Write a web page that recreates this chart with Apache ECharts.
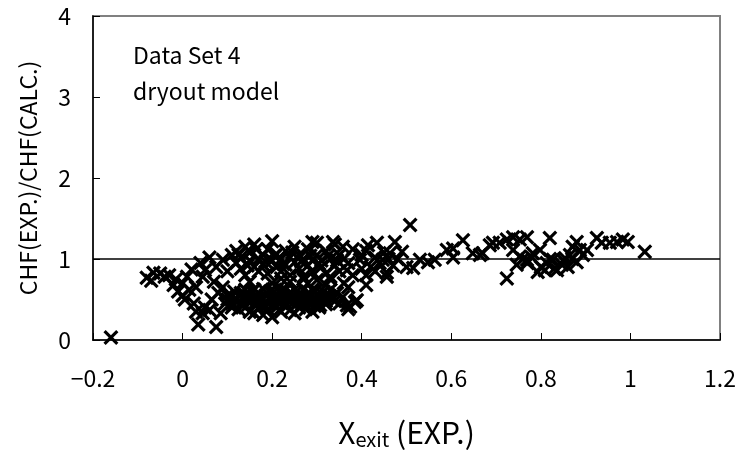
<!DOCTYPE html>
<html>
<head>
<meta charset="utf-8">
<script src="https://cdn.jsdelivr.net/npm/echarts@6/dist/echarts.min.js"></script>
<style>
  html, body { margin: 0; padding: 0; background: #fff; }
  #chart { width: 741px; height: 458px; }
</style>
</head>
<body>
<div id="chart"></div>
<script>
  // ==================== 数据 ====================

  // x 轴刻度 (-0.2 .. 1.2)
  var xTicks = [-0.2, 0, 0.2, 0.4, 0.6, 0.8, 1, 1.2];
  // y 轴刻度
  var yTicks = [0, 1, 2, 3, 4];

  // 左侧低干度区域
  var lowQuality = [
    [-0.16, 0.03],
    [-0.08, 0.77], [-0.07, 0.73], [-0.065, 0.83], [-0.05, 0.82], [-0.04, 0.78],
    [-0.03, 0.80], [-0.02, 0.68], [-0.015, 0.75], [-0.01, 0.60], [0.0, 0.55],
    [0.0, 0.70], [0.005, 0.50], [0.01, 0.78], [0.015, 0.62], [0.02, 0.87],
    [0.025, 0.45], [0.03, 0.65], [0.03, 0.35], [0.035, 0.19], [0.04, 0.95],
    [0.045, 0.78], [0.045, 0.33], [0.05, 0.40], [0.06, 0.37], [0.06, 1.02],
    [0.065, 0.50], [0.075, 0.16], [0.075, 0.90], [0.08, 0.58], [0.085, 0.33],
    [0.09, 0.99], [0.095, 0.45], [0.10, 0.50], [0.10, 0.85], [0.11, 0.53],
    [0.11, 1.05], [0.11, 0.40], [0.05, 0.86], [0.07, 0.72], [0.09, 0.65]
  ];

  // 中部上带 (y ≈ 0.8 - 1.25)
  var upperBand = [
    [0.12, 0.95], [0.12, 1.10], [0.13, 0.88], [0.13, 1.02], [0.14, 1.15],
    [0.14, 0.80], [0.15, 0.98], [0.15, 1.08], [0.16, 0.90], [0.16, 1.18],
    [0.17, 1.00], [0.17, 0.85], [0.18, 1.05], [0.18, 0.93], [0.19, 1.12],
    [0.19, 0.82], [0.20, 0.98], [0.20, 1.22], [0.21, 0.90], [0.21, 1.06],
    [0.22, 1.00], [0.22, 0.85], [0.23, 1.10], [0.23, 0.93], [0.24, 1.02],
    [0.24, 0.80], [0.25, 0.96], [0.25, 1.15], [0.26, 0.88], [0.26, 1.05],
    [0.27, 1.00], [0.27, 0.78], [0.28, 1.12], [0.28, 0.92], [0.29, 0.98],
    [0.29, 0.84], [0.29, 1.21], [0.30, 1.20], [0.30, 1.05], [0.31, 0.90],
    [0.31, 0.98], [0.32, 1.10], [0.32, 0.82], [0.33, 1.00], [0.33, 0.75],
    [0.336, 1.21], [0.34, 1.18], [0.34, 0.92], [0.35, 1.05], [0.35, 0.85],
    [0.358, 1.15], [0.36, 1.00], [0.36, 0.70], [0.367, 0.86], [0.37, 0.95],
    [0.37, 0.65], [0.38, 1.12], [0.38, 0.80], [0.396, 0.99], [0.40, 1.05],
    [0.40, 0.88], [0.125, 1.05], [0.145, 0.92], [0.165, 1.12], [0.185, 0.97],
    [0.205, 1.04], [0.225, 0.94], [0.245, 1.08], [0.265, 0.97], [0.285, 1.04],
    [0.305, 0.94], [0.325, 1.04], [0.345, 0.98]
  ];

  // 中部下带 (y ≈ 0.3 - 0.65)
  var lowerBand = [
    [0.10, 0.55], [0.11, 0.45], [0.115, 0.60], [0.12, 0.50], [0.125, 0.38],
    [0.13, 0.58], [0.13, 0.45], [0.135, 0.52], [0.14, 0.62], [0.14, 0.40],
    [0.145, 0.48], [0.15, 0.55], [0.15, 0.35], [0.155, 0.60], [0.16, 0.44],
    [0.16, 0.33], [0.165, 0.52], [0.17, 0.58], [0.17, 0.40], [0.175, 0.48],
    [0.18, 0.63], [0.18, 0.31], [0.185, 0.55], [0.19, 0.45], [0.19, 0.38],
    [0.195, 0.60], [0.20, 0.50], [0.20, 0.28], [0.205, 0.42], [0.21, 0.57],
    [0.21, 0.40], [0.215, 0.65], [0.22, 0.47], [0.22, 0.35], [0.225, 0.55],
    [0.23, 0.62], [0.23, 0.42], [0.235, 0.50], [0.24, 0.37], [0.24, 0.58],
    [0.245, 0.45], [0.25, 0.53], [0.25, 0.33], [0.255, 0.60], [0.26, 0.48],
    [0.26, 0.40], [0.265, 0.55], [0.27, 0.45], [0.27, 0.62], [0.275, 0.38],
    [0.28, 0.52], [0.28, 0.58], [0.285, 0.44], [0.29, 0.50], [0.29, 0.35],
    [0.295, 0.60], [0.30, 0.46], [0.30, 0.55], [0.305, 0.40], [0.307, 0.43],
    [0.31, 0.52], [0.315, 0.60], [0.32, 0.48], [0.325, 0.55], [0.33, 0.62],
    [0.335, 0.50], [0.345, 0.58], [0.35, 0.45], [0.358, 0.53], [0.367, 0.43],
    [0.37, 0.38], [0.374, 0.41], [0.385, 0.47], [0.389, 0.49],
    [0.15, 0.72], [0.20, 0.70], [0.22, 0.76], [0.24, 0.72], [0.27, 0.75],
    [0.28, 0.70], [0.30, 0.74], [0.32, 0.68], [0.33, 0.78], [0.41, 0.68],
    [0.135, 0.43], [0.155, 0.50], [0.175, 0.42], [0.195, 0.52], [0.215, 0.46],
    [0.235, 0.56], [0.255, 0.44], [0.275, 0.50], [0.295, 0.42], [0.315, 0.50],
    [0.14, 0.56], [0.16, 0.62], [0.17, 0.50], [0.18, 0.44], [0.19, 0.57],
    [0.20, 0.62], [0.21, 0.49], [0.22, 0.58], [0.23, 0.46], [0.24, 0.52],
    [0.25, 0.62], [0.26, 0.56], [0.27, 0.52], [0.28, 0.46], [0.29, 0.62],
    [0.30, 0.50], [0.31, 0.57], [0.32, 0.44], [0.33, 0.54], [0.34, 0.48]
  ];

  // 中高干度 (x ≈ 0.4 - 0.7)
  var midQuality = [
    [0.41, 0.80], [0.41, 1.10], [0.414, 1.17], [0.42, 0.90], [0.43, 1.02],
    [0.43, 0.85], [0.434, 1.20], [0.44, 0.95], [0.447, 0.99], [0.45, 1.08],
    [0.456, 0.78], [0.456, 0.83], [0.46, 1.00], [0.463, 1.07], [0.47, 0.92],
    [0.474, 1.21], [0.48, 1.00], [0.49, 1.09], [0.50, 0.90], [0.508, 1.42],
    [0.515, 0.89], [0.53, 0.99], [0.548, 0.96], [0.563, 0.99], [0.59, 1.11],
    [0.604, 1.13], [0.604, 1.02], [0.626, 1.23], [0.648, 1.07], [0.664, 1.05],
    [0.67, 1.07], [0.686, 1.17]
  ];

  // 高干度区域 (x ≈ 0.7 - 1.05)
  var highQuality = [
    [0.693, 1.20], [0.708, 1.20], [0.724, 1.24], [0.724, 0.76], [0.738, 1.27],
    [0.738, 1.11], [0.746, 0.93], [0.753, 1.24], [0.753, 1.03], [0.76, 1.00],
    [0.769, 1.27], [0.769, 0.99], [0.77, 0.95], [0.78, 1.02], [0.782, 1.07],
    [0.793, 0.84], [0.798, 1.11], [0.80, 0.90], [0.809, 0.86], [0.813, 0.95],
    [0.82, 1.26], [0.82, 1.00], [0.827, 0.99], [0.83, 0.88], [0.836, 0.86],
    [0.847, 0.93], [0.85, 0.98], [0.854, 1.01], [0.86, 0.90], [0.865, 1.05],
    [0.87, 1.00], [0.871, 1.15], [0.88, 1.21], [0.88, 0.96], [0.887, 1.11],
    [0.894, 1.05], [0.903, 1.11], [0.925, 1.26], [0.936, 1.20], [0.954, 1.20],
    [0.97, 1.21], [0.983, 1.24], [0.994, 1.21], [1.032, 1.09]
  ];

  var allPoints = [].concat(lowQuality, upperBand, lowerBand, midQuality, highQuality);

  // ==================== 样式 ====================

  var FONT = '"Noto Sans CJK JP", "Noto Sans", sans-serif';
  // 实心 X 形标记
  var CROSS = 'path://M0,1.5L1.5,0L5,3.5L8.5,0L10,1.5L6.5,5L10,8.5L8.5,10L5,6.5L1.5,10L0,8.5L3.5,5Z';

  function fmtTick(v) {
    var r = Math.round(v * 10) / 10;
    return (r < 0 ? '\u2212' : '') + Math.abs(r);
  }

  var chart = echarts.init(document.getElementById('chart'));

  chart.setOption({
    backgroundColor: '#fff',
    animation: false,
    grid: {
      left: 93, top: 16, width: 627, height: 324,
      show: true, borderColor: '#808080', borderWidth: 2, backgroundColor: 'transparent'
    },
    xAxis: {
      type: 'value',
      min: xTicks[0], max: xTicks[xTicks.length - 1], interval: 0.2,
      axisLine: { show: true, onZero: false, lineStyle: { color: '#000', width: 1.5 } },
      axisTick: { show: true, inside: true, length: 7, lineStyle: { color: '#000', width: 1 } },
      splitLine: { show: false },
      axisLabel: {
        margin: 27, fontSize: 23, color: '#000', fontFamily: FONT,
        formatter: fmtTick
      },
      name: '{a|X}{b|exit}{a| (EXP.)}',
      nameLocation: 'middle',
      nameGap: 76,
      nameTextStyle: {
        rich: {
          a: { fontSize: 30, color: '#000', fontFamily: FONT },
          b: { fontSize: 20, color: '#000', fontFamily: FONT, padding: [13, 0, 0, 0] }
        }
      }
    },
    yAxis: {
      type: 'value',
      min: yTicks[0], max: yTicks[yTicks.length - 1], interval: 1,
      axisLine: { show: true, onZero: false, lineStyle: { color: '#000', width: 1.5 } },
      axisTick: { show: true, inside: true, length: 7, lineStyle: { color: '#000', width: 1 } },
      splitLine: { show: false },
      axisLabel: { margin: 22, fontSize: 23, color: '#000', fontFamily: FONT },
      name: 'CHF(EXP.)/CHF(CALC.)',
      nameLocation: 'middle',
      nameRotate: 90,
      nameGap: 53,
      nameTextStyle: { fontSize: 23, color: '#000', fontFamily: FONT }
    },
    graphic: [
      { type: 'text', left: 133, top: 44, style: { text: 'Data Set 4', fontSize: 23, fill: '#000', fontFamily: FONT } },
      { type: 'text', left: 133, top: 80, style: { text: 'dryout model', fontSize: 23, fill: '#000', fontFamily: FONT } }
    ],
    series: [
      {
        type: 'scatter',
        data: allPoints,
        symbol: CROSS,
        symbolSize: 15,
        itemStyle: { color: '#000', opacity: 1 },
        markLine: {
          silent: true,
          symbol: ['none', 'none'],
          label: { show: false },
          lineStyle: { color: '#000', width: 1.5, type: 'solid' },
          data: [{ yAxis: 1 }]
        }
      }
    ]
  });

  window.addEventListener('resize', function () { chart.resize(); });
</script>
</body>
</html>
